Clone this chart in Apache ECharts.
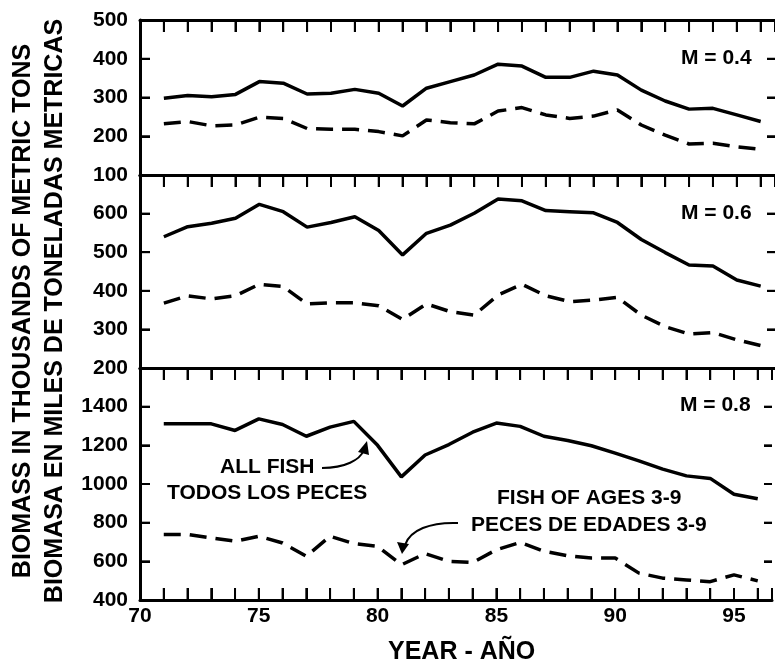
<!DOCTYPE html>
<html>
<head>
<meta charset="utf-8">
<script src="https://cdn.jsdelivr.net/npm/echarts@6/dist/echarts.min.js"></script>
<style>
html,body{margin:0;padding:0;background:#fff;}
#chart{width:775px;height:667px;}
</style>
</head>
<body>
<div id="chart"></div>
<script>
// ---- data ----
var years = [71,72,73,74,75,76,77,78,79,80,81,82,83,84,85,86,87,88,89,90,91,92,93,94,95,96];
var allFishM04 = [298,305,302,308,341,337,309,311,321,311,278,324,341,358,386,381,352,352,368,358,319,291,270,272,255,238];
var ages39M04  = [232,238,227,229,249,246,220,218,218,212,201,242,235,232,265,274,255,246,252,268,229,203,180,182,173,166];
var allFishM06 = [540,566,575,588,624,605,565,577,592,556,493,549,570,601,638,633,608,605,602,577,533,499,467,464,428,412];
var ages39M06  = [368,387,379,387,417,411,366,369,369,361,326,366,346,337,389,417,387,372,376,383,337,307,288,292,273,258];
var allFishM08 = [1311,1311,1311,1277,1337,1308,1247,1294,1324,1200,1037,1150,1204,1268,1315,1298,1247,1225,1198,1160,1120,1077,1042,1029,947,924];
var ages39M08  = [739,739,721,704,730,695,626,730,692,678,582,640,600,594,660,698,652,629,617,617,539,513,504,495,530,499];
var panelLabels = ['M = 0.4','M = 0.6','M = 0.8'];
var xTickYears = [70,71,72,73,74,75,76,77,78,79,80,81,82,83,84,85,86,87,88,89,90,91,92,93,94,95,96];
var yTicks = [[100,200,300,400,500],[200,300,400,500,600,700],[400,600,800,1000,1200,1400,1600]];
var yMin = [100,200,400], yMax = [500,700,1600], yInterval = [100,100,200];
var xMin = 70, xMax = 96.6;

var FONT = '"Liberation Sans", Arial, sans-serif';
function pairs(vals){ return years.map(function(y,i){ return [y, vals[i]]; }); }

var measureCtx = document.createElement('canvas').getContext('2d');
function textWidth(text, size){
  measureCtx.font = 'bold ' + size + 'px ' + FONT;
  return measureCtx.measureText(text).width;
}
function label(text, x, cy, size, anchor){
  var w = textWidth(text, size);
  var left = anchor === 'right' ? x - w : x - w / 2;
  return {text:text, left:Math.round(left), top:Math.round(cy - size * 0.48), padding:0, textAlign:'left',
    textStyle:{color:'#000', fontFamily:FONT, fontWeight:'bold', fontSize:size}};
}

function tickLine(x1,y1,x2,y2){
  return {type:'line', shape:{x1:x1,y1:y1,x2:x2,y2:y2}, style:{stroke:'#000', lineWidth:2}};
}
// inward tick marks on the panel frames, placed through the axis scales
function xTickSeries(i){
  return {type:'custom', xAxisIndex:i, yAxisIndex:i, silent:true, z:1, clip:false,
    data: xTickYears.map(function(v){ return [v, yMin[i]]; }),
    renderItem: function(params, api){
      var v = api.value(0);
      var top = api.coord([v, yMax[i]]);
      var children = [tickLine(top[0], top[1], top[0], top[1] + 12)];
      if (i === 2){
        var bot = api.coord([v, yMin[i]]);
        children.push(tickLine(bot[0], bot[1], bot[0], bot[1] - 12));
      }
      return {type:'group', children:children};
    }};
}
function yTickSeries(i){
  return {type:'custom', xAxisIndex:i, yAxisIndex:i, silent:true, z:1, clip:false,
    data: yTicks[i].map(function(v){ return [xMin, v]; }),
    renderItem: function(params, api){
      var v = api.value(1);
      var l = api.coord([xMin, v]);
      var r = api.coord([xMax, v]);
      return {type:'group', children:[tickLine(l[0], l[1], l[0] + 10, l[1]), tickLine(r[0] - 8, r[1], r[0], r[1])]};
    }};
}

function makeOption(){
  var grids = [
    {left:140, right:0, top:20, height:155},
    {left:140, right:0, top:175, height:193},
    {left:140, right:0, top:368, height:232}
  ];
  var xAxes = [], yAxes = [];
  for (var i=0;i<3;i++) xAxes.push({type:'value', gridIndex:i, position:'bottom', min:xMin, max:xMax, interval:1,
    axisLine:{show:true, onZero:false, lineStyle:{color:'#000', width:3}},
    axisTick:{show:i===2, inside:true, length:12, lineStyle:{color:'#000', width:2}},
    axisLabel:{show:i===2, color:'#000', fontFamily:FONT, fontWeight:'bold', fontSize:21, margin:6,
      formatter:function(val){ return (Math.round(val)===val && val%5===0) ? String(val) : ''; }},
    splitLine:{show:false}});
  for (var i=0;i<3;i++) xAxes.push({type:'value', gridIndex:i, position:'top', min:xMin, max:xMax, interval:1,
    axisLine:{show:true, onZero:false, lineStyle:{color:'#000', width:3}},
    axisTick:{show:true, inside:true, length:12, lineStyle:{color:'#000', width:2}},
    axisLabel:{show:false}, splitLine:{show:false}});
  for (var i=0;i<3;i++) (function(i){ yAxes.push({type:'value', gridIndex:i, position:'left', min:yMin[i], max:yMax[i], interval:yInterval[i],
    axisLine:{show:true, onZero:false, lineStyle:{color:'#000', width:3}},
    axisTick:{show:true, inside:true, length:10, lineStyle:{color:'#000', width:2}},
    axisLabel:{color:'#000', fontFamily:FONT, fontWeight:'bold', fontSize:21, margin:12,
      formatter:function(val){ return (i>0 && val===yMax[i]) ? '' : String(val); }},
    splitLine:{show:false}}); })(i);
  for (var i=0;i<3;i++) yAxes.push({type:'value', gridIndex:i, position:'right', min:yMin[i], max:yMax[i], interval:yInterval[i],
    axisLine:{show:false}, axisTick:{show:true, inside:true, length:8, lineStyle:{color:'#000', width:2}},
    axisLabel:{show:false}, splitLine:{show:false}});

  var solidSets = [allFishM04, allFishM06, allFishM08];
  var dashSets = [ages39M04, ages39M06, ages39M08];
  var series = [];
  for (var i=0;i<3;i++){
    series.push({type:'line', xAxisIndex:i, yAxisIndex:i, data:pairs(solidSets[i]), symbol:'none', color:'#000',
      lineStyle:{color:'#000', width:3.5, type:'solid'}});
    series.push({type:'line', xAxisIndex:i, yAxisIndex:i, data:pairs(dashSets[i]), symbol:'none', color:'#000',
      lineStyle:{color:'#000', width:3.5, type:[17,9]}});
    series.push(xTickSeries(i));
    series.push(yTickSeries(i));
  }

  var titles = [
    label('YEAR - A\u00D1O', 462, 652, 25, 'center'),
    label(panelLabels[0], 752, 58, 21, 'right'),
    label(panelLabels[1], 752, 213, 21, 'right'),
    label(panelLabels[2], 751, 405, 21, 'right'),
    label('ALL FISH', 267, 467, 21, 'center'),
    label('TODOS LOS PECES', 267, 493, 21, 'center'),
    label('FISH OF AGES 3-9', 589, 498, 21, 'center'),
    label('PECES DE EDADES 3-9', 589, 525, 21, 'center')
  ];

  var graphics = [
    {type:'text', x:23, y:311, rotation:Math.PI/2,
      style:{text:'BIOMASS IN THOUSANDS OF METRIC TONS', font:'bold 25px '+FONT, fill:'#000', textAlign:'center', textVerticalAlign:'middle'}},
    {type:'text', x:55, y:311, rotation:Math.PI/2,
      style:{text:'BIOMASA EN MILES DE TONELADAS METRICAS', font:'bold 25px '+FONT, fill:'#000', textAlign:'center', textVerticalAlign:'middle'}},
    {type:'bezierCurve', shape:{x1:322,y1:468, cpx1:345,cpy1:468, cpx2:360,cpy2:460, x2:364,y2:450},
      style:{stroke:'#000', lineWidth:2, fill:null}},
    {type:'polygon', shape:{points:[[367,441],[358,452],[369,455]]}, style:{fill:'#000'}},
    {type:'bezierCurve', shape:{x1:458,y1:523, cpx1:430,cpy1:522, cpx2:410,cpy2:530, x2:405,y2:545},
      style:{stroke:'#000', lineWidth:2, fill:null}},
    {type:'polygon', shape:{points:[[402,554],[397,542],[409,544]]}, style:{fill:'#000'}}
  ];

  return {animation:false, title:titles, grid:grids, xAxis:xAxes, yAxis:yAxes, series:series, graphic:graphics};
}

var chart = echarts.init(document.getElementById('chart'));
chart.setOption(makeOption());
</script>
</body>
</html>
